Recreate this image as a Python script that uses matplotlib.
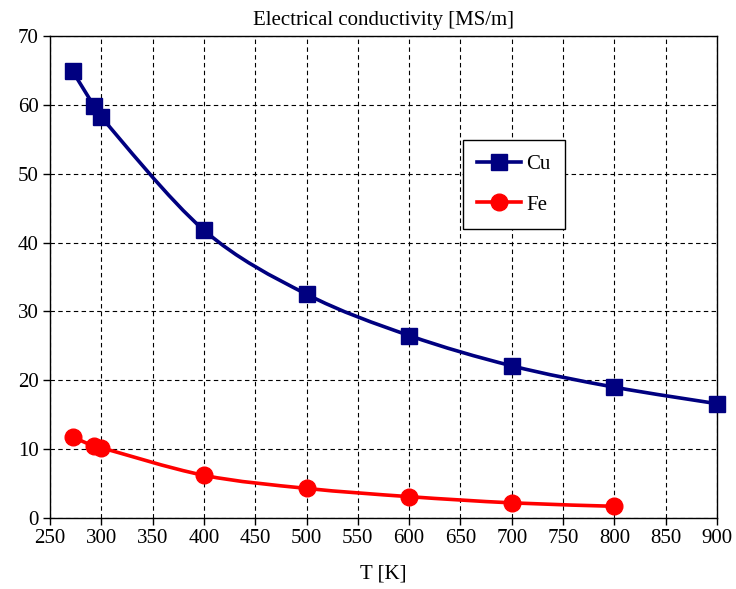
import matplotlib
matplotlib.use("Agg")
import matplotlib.pyplot as plt
from matplotlib.path import Path
from matplotlib.patches import PathPatch
import numpy as np

# Data
temp_cu = [272, 293, 300, 400, 500, 600, 700, 800, 900]
sigma_cu = [64.9, 59.8, 58.2, 41.8, 32.5, 26.5, 22.1, 19.0, 16.6]
temp_fe = [272, 293, 300, 400, 500, 600, 700, 800]
sigma_fe = [11.8, 10.4, 10.2, 6.2, 4.3, 3.1, 2.2, 1.7]

x_ticks = list(range(250, 901, 50))
y_ticks = list(range(0, 71, 10))


def smooth_path(xs, ys):
    # Excel-style smoothed line: cubic Bezier through the points
    pts = np.column_stack([xs, ys]).astype(float)
    verts = [pts[0]]
    codes = [Path.MOVETO]
    n = len(pts)
    for i in range(n - 1):
        p0 = pts[i - 1] if i > 0 else pts[i]
        p1 = pts[i]
        p2 = pts[i + 1]
        p3 = pts[i + 2] if i + 2 < n else pts[i + 1]
        c1 = p1 + (p2 - p0) / 6.0
        c2 = p2 - (p3 - p1) / 6.0
        verts += [c1, c2, p2]
        codes += [Path.CURVE4] * 3
    return Path(verts, codes)


plt.rcParams['font.family'] = ['Liberation Serif', 'DejaVu Serif']

fig = plt.figure(figsize=(7.36, 5.89), dpi=100)
ax = fig.add_axes([50 / 736, 71 / 589, 667 / 736, 482 / 589])

for xs, ys, col, mk, ms, lab in [(temp_cu, sigma_cu, '#000080', 's', 11.5, 'Cu'),
                                 (temp_fe, sigma_fe, '#ff0000', 'o', 12, 'Fe')]:
    ax.add_patch(PathPatch(smooth_path(xs, ys), facecolor='none',
                           edgecolor=col, lw=2.6, zorder=3))
    ax.plot(xs, ys, linestyle='none', marker=mk, color=col, markersize=ms,
            zorder=4, clip_on=False)
    # proxy for legend
    ax.plot([], [], color=col, lw=2.6, marker=mk, markersize=ms, label=lab)

ax.set_xlim(250, 900)
ax.set_ylim(0, 70)
ax.set_xticks(x_ticks)
ax.set_yticks(y_ticks)
ax.grid(True, color='black', linestyle=(0, (4, 3)), linewidth=0.8)
ax.set_axisbelow(True)
ax.tick_params(direction='out', length=5, width=1, labelsize=15, colors='black',
               pad=3)
for sp in ax.spines.values():
    sp.set_linewidth(1)

ax.set_title('Electrical conductivity [MS/m]', fontsize=15, pad=8)
ax.set_xlabel('T [K]', fontsize=15, labelpad=12)

leg = ax.legend(loc='upper left', bbox_to_anchor=(0.619, 0.784), fontsize=15,
                frameon=True, fancybox=False, edgecolor='black',
                framealpha=1, handlelength=2.1, labelspacing=1.0,
                borderpad=0.7, handletextpad=0.25, borderaxespad=0)
leg.get_frame().set_linewidth(1)

fig.savefig('out.png', dpi=100)
